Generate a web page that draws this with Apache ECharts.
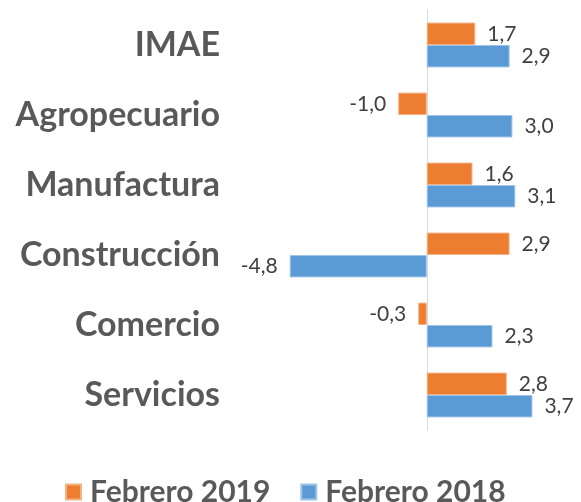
<!DOCTYPE html>
<html>
<head>
<meta charset="utf-8">
<script src="https://cdn.jsdelivr.net/npm/echarts@6/dist/echarts.min.js"></script>
<style>
  html, body { margin: 0; padding: 0; background: #fff; }
  #chart { width: 581px; height: 502px; }
</style>
</head>
<body>
<div id="chart"></div>
<script>
var categories = ['IMAE', 'Agropecuario', 'Manufactura', 'Construcción', 'Comercio', 'Servicios']
var feb2019 = [1.7, -1.0, 1.6, 2.9, -0.3, 2.8]
var feb2018 = [2.9, 3.0, 3.1, -4.8, 2.3, 3.7]
var seriesNames = ['Febrero 2019', 'Febrero 2018']

var chart = echarts.init(document.getElementById('chart'))

// negative values get their label on the left side
function withLabels(values) {
  return values.map(function(v) {
    return {
      value: v,
      label: { position: v < 0 ? 'left' : 'right' }
    }
  })
}

var labelStyle = {
  show: true,
  distance: 12,
  fontFamily: 'Lato',
  fontSize: 21,
  color: '#404040',
  formatter: function(p) {
    return p.value.toFixed(1).replace('.', ',')
  }
}

chart.setOption({
  animation: false,
  grid: {
    left: 284,
    right: 40,
    top: 10,
    bottom: 72
  },
  legend: {
    data: seriesNames,
    left: 60,
    top: 472,
    itemWidth: 15,
    itemHeight: 15,
    itemGap: 30,
    icon: 'rect',
    textStyle: {
      fontFamily: 'Lato',
      fontWeight: 'bold',
      fontSize: 30,
      color: '#595959',
      padding: [0, 0, 0, 4]
    }
  },
  xAxis: {
    type: 'value',
    min: -5,
    max: 4,
    axisLine: { show: false },
    axisTick: { show: false },
    axisLabel: { show: false },
    splitLine: { show: false }
  },
  yAxis: {
    type: 'category',
    data: categories,
    inverse: true,
    axisTick: { show: false },
    axisLine: {
      onZero: true,
      lineStyle: { color: '#d9d9d9', width: 1 }
    },
    axisLabel: {
      margin: 64,
      fontFamily: 'Lato',
      fontWeight: 'bold',
      fontSize: 34,
      color: '#595959'
    }
  },
  series: [{
    name: seriesNames[0],
    type: 'bar',
    barGap: '0%',
    barCategoryGap: '36%',
    itemStyle: { color: '#ED7D31', borderColor: '#F4B183', borderWidth: 1 },
    label: labelStyle,
    data: withLabels(feb2019)
  }, {
    name: seriesNames[1],
    type: 'bar',
    barGap: '0%',
    barCategoryGap: '36%',
    itemStyle: { color: '#5B9BD5', borderColor: '#9DC3E6', borderWidth: 1 },
    label: labelStyle,
    data: withLabels(feb2018)
  }]
})
</script>
</body>
</html>
